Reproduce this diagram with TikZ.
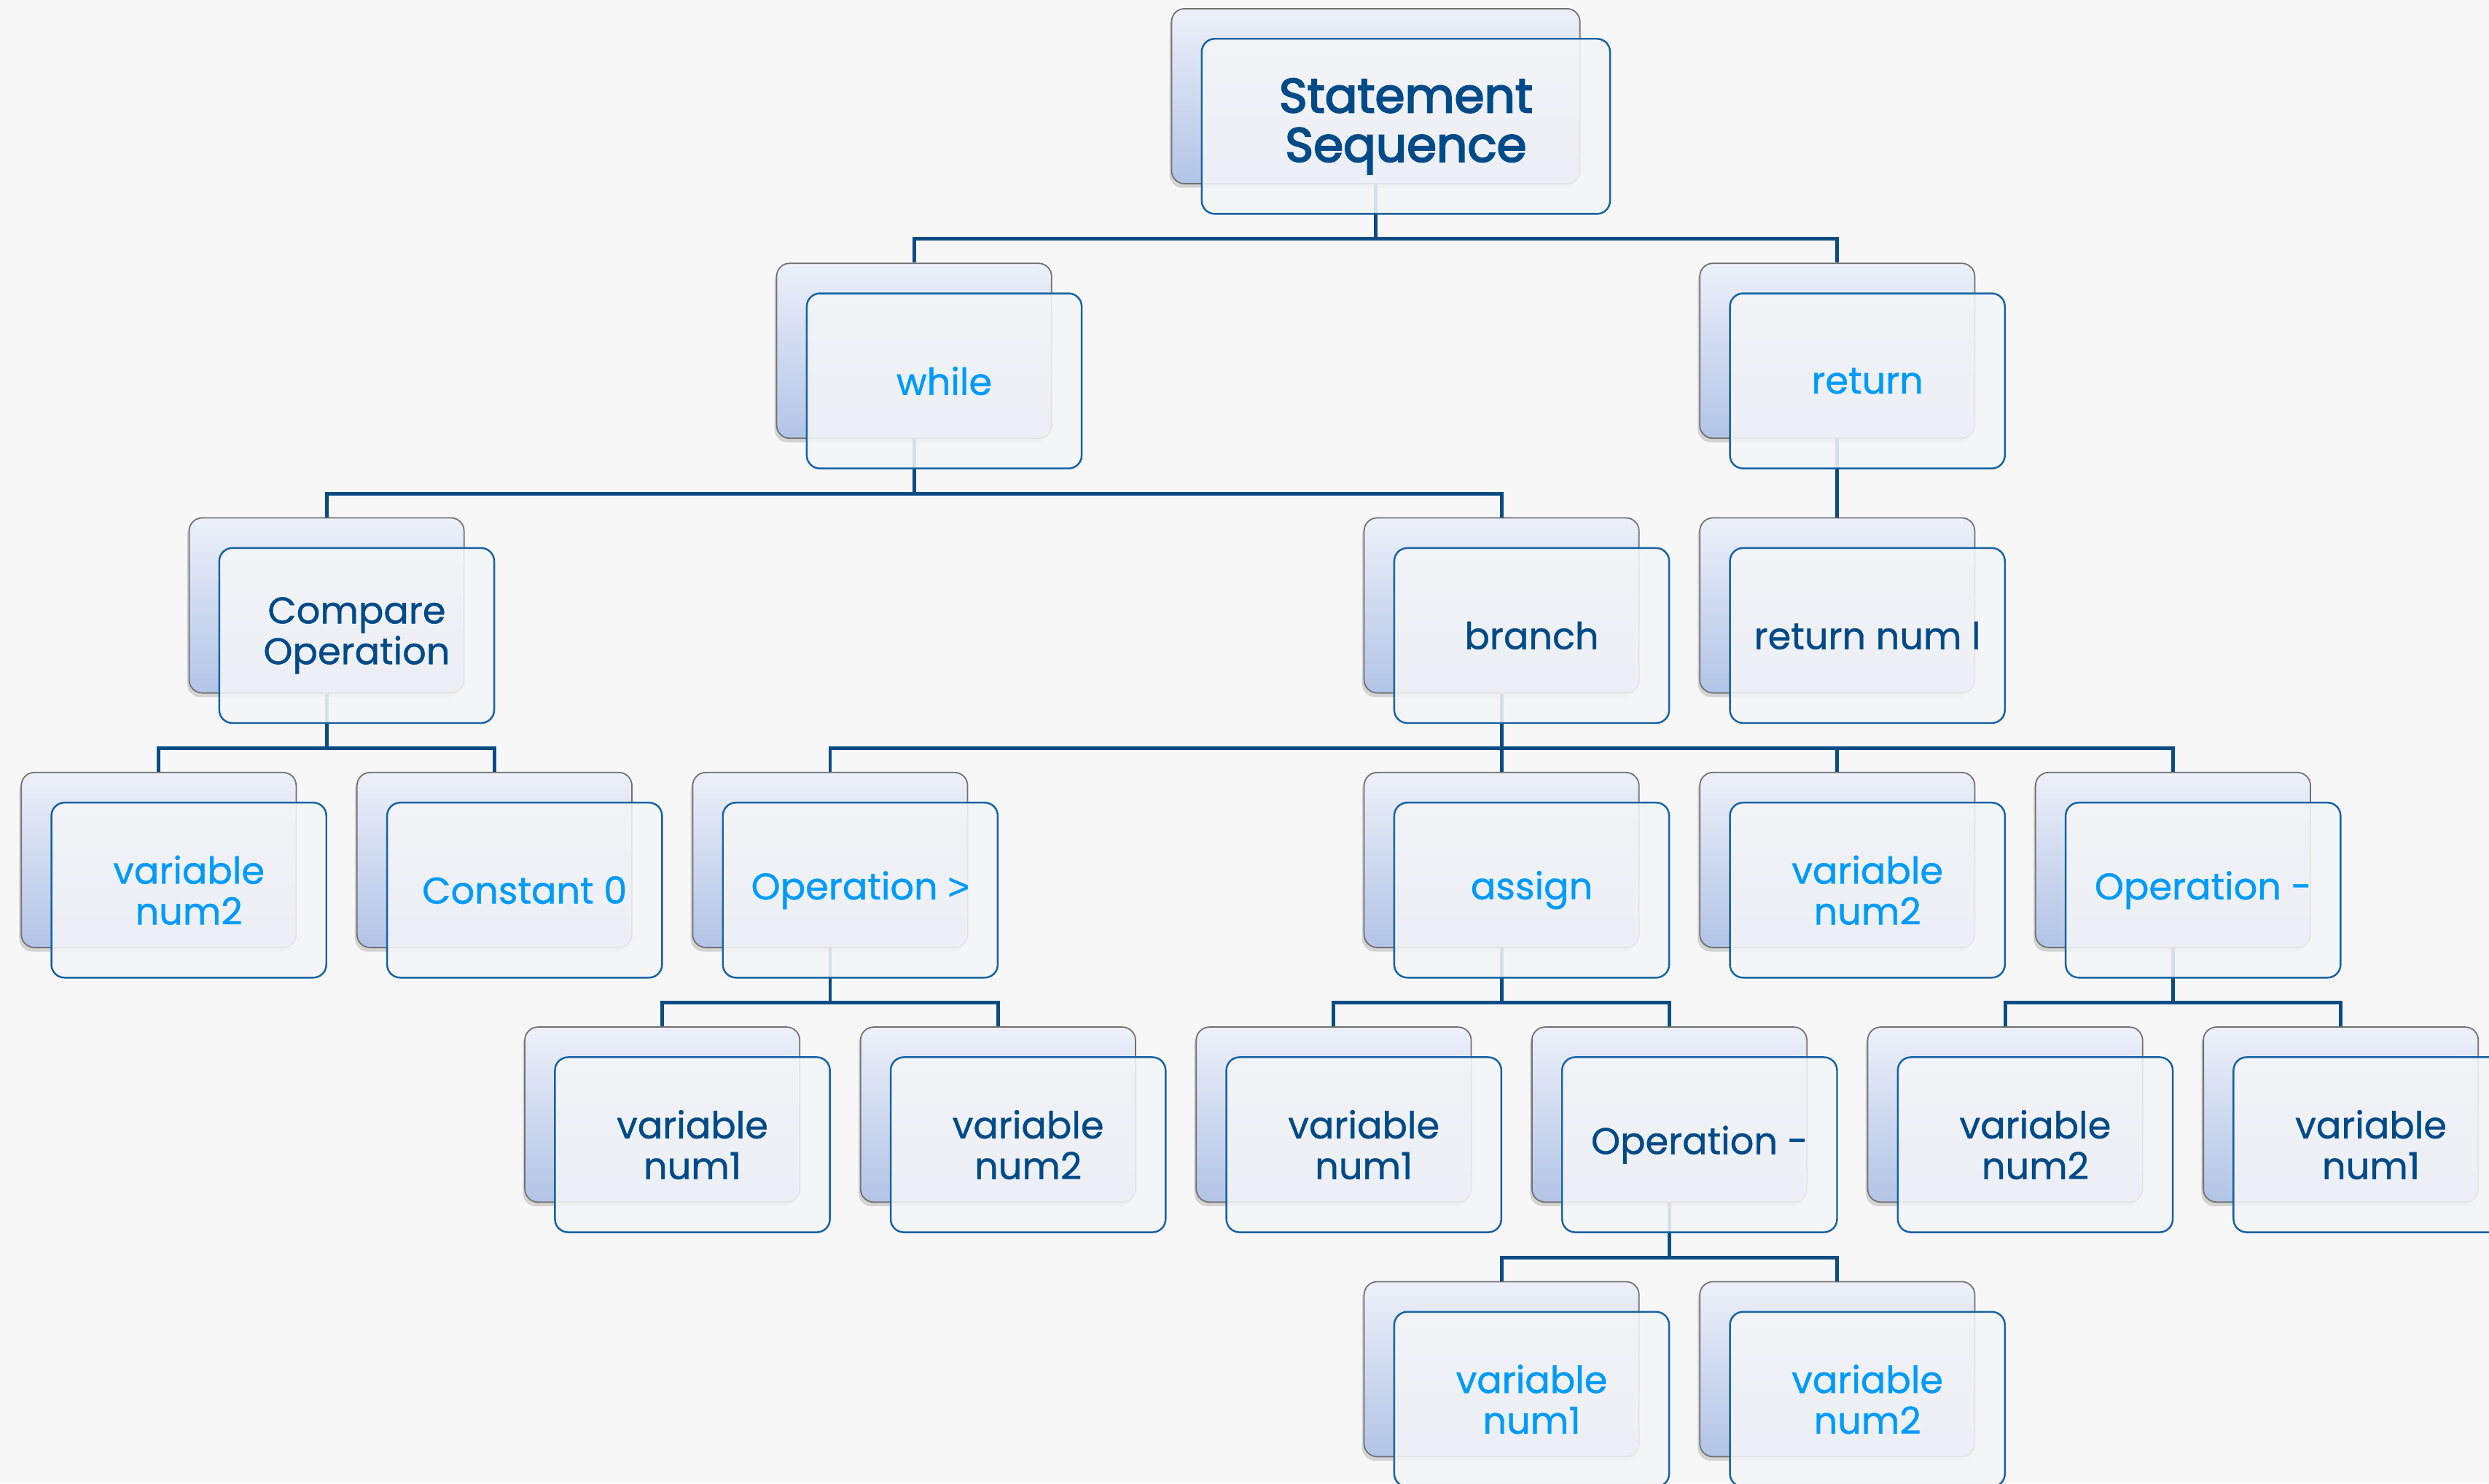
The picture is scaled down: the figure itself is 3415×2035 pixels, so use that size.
\documentclass[tikz,border=0pt]{standalone}
\usepackage{fontspec}
\setmainfont{Poppins}[RawFeature={embolden=0.8}]
\newfontfamily\topfont{Poppins}[RawFeature={embolden=3}]
\newfontfamily\symfont{Liberation Sans}[RawFeature={embolden=0.8}]
\usetikzlibrary{shadows}
\definecolor{bgc}{RGB}{247,247,247}
\definecolor{conn}{RGB}{12,75,130}
\definecolor{frontline}{RGB}{22,98,162}
\definecolor{frontfill}{RGB}{244,245,247}
\definecolor{backtop}{RGB}{237,240,249}
\definecolor{backbot}{RGB}{178,196,230}
\definecolor{backline}{RGB}{112,112,112}
\definecolor{lightt}{RGB}{0,155,250}
\definecolor{darkt}{RGB}{0,74,135}
\pgfdeclarelayer{bgl}
\pgfdeclarelayer{backl}
\pgfdeclarelayer{connl}
\pgfsetlayers{bgl,backl,connl,main}
\tikzset{
  backbox/.style={rectangle, rounded corners=0.18cm, draw=backline, line width=0.5pt,
    top color=backtop, bottom color=backbot, minimum height=2.4cm, inner sep=0pt,
    anchor=north west, drop shadow={shadow xshift=-0.8pt, shadow yshift=-1.6pt, opacity=0.3}},
  frontbox/.style={rectangle, rounded corners=0.18cm, draw=frontline, line width=0.7pt,
    fill=frontfill, fill opacity=0.88, text opacity=1, minimum height=2.4cm, inner sep=0pt,
    anchor=north west, align=center, font=\fontsize{14.5}{15.9}\selectfont},
  lt/.style={text=lightt},
  dk/.style={text=darkt},
  link/.style={draw=conn, line width=1.4pt},
}
\newcommand\colx[1]{28.3+#1*230.3}
\newcommand\rowy[1]{11+#1*349.3}
\newcommand\tbox[6]{%
  \begin{pgfonlayer}{backl}
    \node[backbox, minimum width=#4] (#1b) at ({#2},{#3}) {};
  \end{pgfonlayer}
  \node[frontbox, minimum width=#4, #5] (#1) at ({#2+41},{#3+41}) {#6};
}
\newcommand\lnk[2]{\draw[link] (#1b.south) -- ++(0,75) -| (#2b.north);}
\begin{document}
\begin{tikzpicture}[x=0.01cm, y=-0.01cm]
\begin{pgfonlayer}{bgl}
\fill[bgc] (0,0) rectangle (3415,2035);
\end{pgfonlayer}
\useasboundingbox (0,0) rectangle (3415,2035);

\tbox{top}{1606.5}{11}{5.6cm}{dk, font=\fontsize{18.8}{19.2}\topfont}{Statement\\Sequence}

\tbox{wh}{\colx{4.5}}{\rowy{1}}{3.77cm}{lt}{while}
\tbox{ret}{\colx{10}}{\rowy{1}}{3.77cm}{lt}{return}

\tbox{cmp}{\colx{1}}{\rowy{2}}{3.77cm}{dk}{Compare\\Operation}
\tbox{br}{\colx{8}}{\rowy{2}}{3.77cm}{dk}{branch}
\tbox{rnum}{\colx{10}}{\rowy{2}}{3.77cm}{dk}{return num l}

\tbox{va}{\colx{0}}{\rowy{3}}{3.77cm}{lt}{variable\\num2}
\tbox{cz}{\colx{2}}{\rowy{3}}{3.77cm}{lt}{Constant 0}
\tbox{opg}{\colx{4}}{\rowy{3}}{3.77cm}{lt}{Operation {\symfont >}}
\tbox{asg}{\colx{8}}{\rowy{3}}{3.77cm}{lt}{assign}
\tbox{vb}{\colx{10}}{\rowy{3}}{3.77cm}{lt}{variable\\num2}
\tbox{opm}{\colx{12}}{\rowy{3}}{3.77cm}{lt}{Operation -}

\tbox{vc}{\colx{3}}{\rowy{4}}{3.77cm}{dk}{variable\\num1}
\tbox{vd}{\colx{5}}{\rowy{4}}{3.77cm}{dk}{variable\\num2}
\tbox{ve}{\colx{7}}{\rowy{4}}{3.77cm}{dk}{variable\\num1}
\tbox{opn}{\colx{9}}{\rowy{4}}{3.77cm}{dk}{Operation -}
\tbox{vf}{\colx{11}}{\rowy{4}}{3.77cm}{dk}{variable\\num2}
\tbox{vg}{\colx{13}}{\rowy{4}}{3.77cm}{dk}{variable\\num1}

\tbox{vh}{\colx{8}}{\rowy{5}}{3.77cm}{lt}{variable\\num1}
\tbox{vi}{\colx{10}}{\rowy{5}}{3.77cm}{lt}{variable\\num2}

\begin{pgfonlayer}{connl}
\lnk{top}{wh}
\lnk{top}{ret}
\lnk{wh}{cmp}
\lnk{wh}{br}
\lnk{ret}{rnum}
\lnk{cmp}{va}
\lnk{cmp}{cz}
\lnk{br}{opg}
\lnk{br}{asg}
\lnk{br}{vb}
\lnk{br}{opm}
\lnk{opg}{vc}
\lnk{opg}{vd}
\lnk{asg}{ve}
\lnk{asg}{opn}
\lnk{opm}{vf}
\lnk{opm}{vg}
\lnk{opn}{vh}
\lnk{opn}{vi}
\end{pgfonlayer}
\end{tikzpicture}
\end{document}
